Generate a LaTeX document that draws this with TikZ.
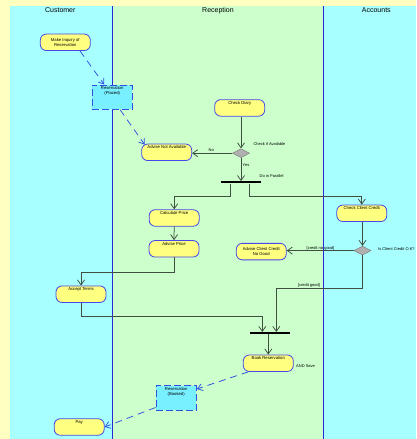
\documentclass[tikz,border=0pt]{standalone}
\usepackage{fontspec}
\setmainfont{Liberation Sans}
\usetikzlibrary{arrows.meta,shapes.geometric}
\definecolor{bgyellow}{RGB}{255,255,192}
\definecolor{lanecyan}{RGB}{168,255,255}
\definecolor{lanegreen}{RGB}{204,255,204}
\definecolor{laneline}{RGB}{40,40,216}
\definecolor{actyellow}{RGB}{255,255,128}
\definecolor{actblue}{RGB}{72,72,232}
\definecolor{objcyan}{RGB}{120,240,255}
\definecolor{dashblue}{RGB}{48,80,224}
\definecolor{decfill}{RGB}{176,176,176}
\definecolor{decgray}{RGB}{128,128,128}
\definecolor{flowcol}{RGB}{63,79,63}
\tikzset{
  act/.style={draw=actblue, fill=actyellow, line width=0.8pt, rounded corners=6pt,
    minimum width=50pt, minimum height=16.5pt, inner sep=1pt,
    font=\fontsize{4.2}{5}\selectfont, align=center},
  acttop/.style={draw=actblue, fill=actyellow, line width=0.8pt, rounded corners=6pt,
    minimum width=50pt, minimum height=16.5pt, inner xsep=1pt, inner ysep=1.1pt,
    text height=3.6pt, text depth=10.5pt, font=\fontsize{4.2}{5}\selectfont},
  obj/.style={draw=dashblue, dash pattern=on 7pt off 3pt, fill=objcyan, line width=0.8pt,
    minimum width=40.5pt, minimum height=24.5pt, inner sep=0pt},
  objtxt/.style={font=\fontsize{4.2}{5}\selectfont, align=center, inner sep=0pt, anchor=north},
  dec/.style={diamond, draw=decgray, fill=decfill, line width=0.5pt,
    minimum width=17pt, minimum height=9pt, inner sep=0pt},
  forkbar/.style={fill=black, minimum width=39.5pt, minimum height=2pt, inner sep=0pt},
  flow/.style={draw=flowcol, line width=0.75pt, -{Straight Barb[length=5pt,width=7pt]}},
  dflow/.style={draw=dashblue, line width=0.75pt, dash pattern=on 7pt off 5pt,
    -{Straight Barb[length=5pt,width=7pt]}},
  lbl/.style={font=\fontsize{4}{5}\selectfont, inner sep=0pt},
  hdr/.style={font=\fontsize{7}{8}\selectfont, inner sep=0pt},
}
\begin{document}
\begin{tikzpicture}[x=1pt,y=-1pt]
\useasboundingbox (0,0) rectangle (416,439);
% background and lanes
\fill[bgyellow] (0,0) rectangle (416,439);
\fill[lanecyan] (10,6) rectangle (112,439);
\fill[lanegreen] (112,6) rectangle (323,439);
\fill[lanecyan] (323,6) rectangle (416,439);
\draw[laneline, line width=0.9pt] (112.3,6) -- (112.3,439);
\draw[laneline, line width=0.9pt] (323.3,6) -- (323.3,439);
% headers
\node[hdr] (hcust) at (60.3,10.5) {Customer};
\node[hdr] (hrec) at (218,10.5) {Reception};
\node[hdr] (hacc) at (376.3,10.5) {Accounts};
% nodes
\node[act] (inquiry) at (65.3,42.3) {Make Inquiry of\\Reservation};
\node[obj] (placed) at (112.2,97.2) {};
\node[objtxt] (placedT) at ([yshift=-1.8pt]placed.north) {Reservation\\(Placed)};
\node[acttop] (diary) at (239.7,107.9) {Check Diary};
\node[acttop] (notavail) at (166.7,152.3) {Advise Not Available};
\node[dec] (d1) at (241,153.2) {};
\node[forkbar] (f1) at (240.8,182.3) {};
\node[acttop] (calc) at (174.2,218) {Calculate Price};
\node[acttop] (advprice) at (174,248.8) {Advise Price};
\node[acttop] (accept) at (81,294.2) {Accept Terms};
\node[acttop] (credit) at (361.8,213.3) {Check Client Credit};
\node[dec] (d2) at (362.5,250.6) {};
\node[act] (nogood) at (261.3,251.6) {Advise Client Credit\\No Good};
\node[forkbar] (f2) at (269.8,333.2) {};
\node[acttop] (book) at (268.3,363.2) {Book Reservation};
\node[obj] (booked) at (176.2,398) {};
\node[objtxt] (bookedT) at ([yshift=-1.8pt]booked.north) {Reservation\\(Booked)};
\node[acttop] (pay) at (79.2,427) {Pay};
% labels
\node[lbl, anchor=west] (lcheck) at (253.3,144) {Check if Available};
\node[lbl] (lno) at (211.3,150.5) {No};
\node[lbl] (lyes) at (246,165) {Yes};
\node[lbl, anchor=west] (lpar) at (259.5,176.2) {Do in Parallel};
\node[lbl] (lnogood) at (320.5,248.2) {[credit no good]};
\node[lbl] (lgood) at (309,285.6) {[credit good]};
\node[lbl, anchor=west] (lok) at (378,248.8) {Is Client Credit O.K?};
\node[lbl, anchor=west] (lsave) at (296,366.3) {AND Save};
% object flows
\draw[dflow] ([xshift=14.7pt]inquiry.south) -- ([xshift=-8pt]placed.north);
\draw[dflow] ([xshift=8pt]placed.south) -- ([xshift=3.4pt,yshift=-1pt]notavail.north west);
\draw[dflow] ([xshift=-20pt]book.south) -- ([yshift=9pt]booked.east);
\draw[dflow] ([yshift=-9.5pt]booked.west) -- (pay.east);
% control flows
\draw[flow] (diary.south -| d1.north) -- (d1.north);
\draw[flow] (d1.west) -- (d1.west -| notavail.east);
\draw[flow] (d1.south) -- (d1.south |- f1.north);
\draw[flow] ([xshift=-10.8pt]f1.south) -- ++(0,13.2) -| (calc.north);
\draw[flow] ([xshift=8.2pt]f1.south) -- ++(0,13.2) -| (credit.north);
\draw[flow] (calc.south) -- (advprice.north);
\draw[flow] (advprice.south) -- ++(0,15) -| (accept.north);
\draw[flow] (accept.south) -- ++(0,14) -| ([xshift=-7.5pt]f2.north);
\draw[flow] (credit.south -| d2.north) -- (d2.north);
\draw[flow] (d2.west) -- (d2.west -| nogood.east);
\draw[flow] (d2.south) -- ++(0,33.5) -| ([xshift=6.5pt]f2.north);
\draw[flow] ([xshift=-1.5pt]f2.south) -- (book.north);
\end{tikzpicture}
\end{document}
